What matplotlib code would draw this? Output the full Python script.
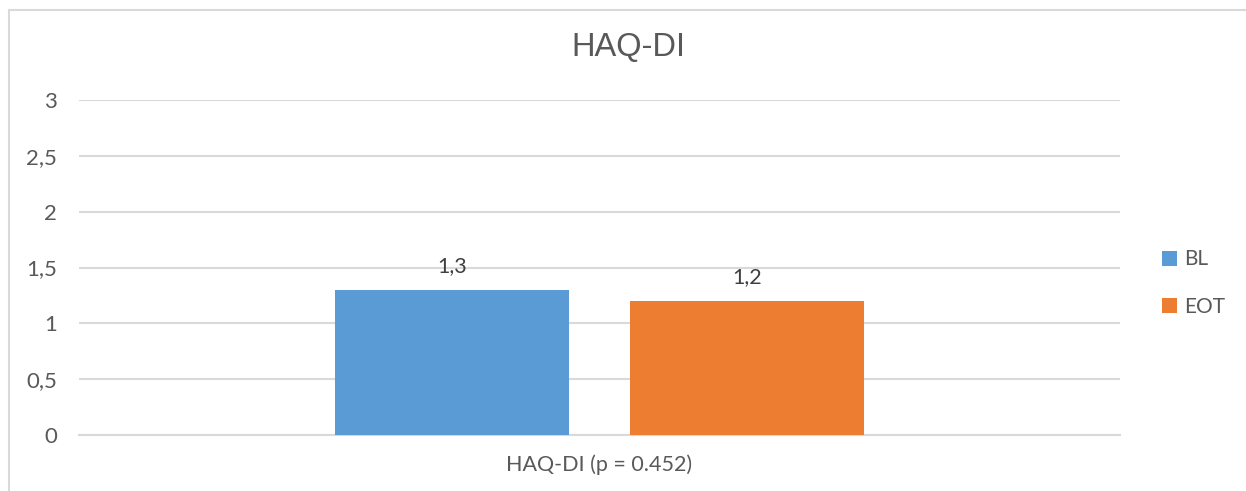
import matplotlib.pyplot as plt
from matplotlib.patches import Rectangle

categories = ["HAQ-DI (p = 0.452)"]
series = ["BL", "EOT"]
values = [1.3, 1.2]
value_labels = ["1,3", "1,2"]
colors = ["#5B9BD5", "#ED7D31"]
yticks = [0, 0.5, 1, 1.5, 2, 2.5, 3]
ytick_labels = ["0", "0,5", "1", "1,5", "2", "2,5", "3"]

W, H = 1246, 491
fig = plt.figure(figsize=(W / 100, H / 100), dpi=100)
plt.rcParams['font.family'] = ['Lato', 'DejaVu Sans']

# chart frame (only top and left edges fall inside the picture)
fig.patches.append(Rectangle((8.5 / W, -0.1), 1.2, 1 - 9.5 / H + 0.1,
                             transform=fig.transFigure, fill=False,
                             edgecolor="#d9d9d9", linewidth=1.5))

ax = fig.add_axes([79 / W, 1 - 435 / H, (1120 - 79) / W, (435 - 100) / H])

bar_w = 0.225
offsets = [-0.142, 0.142]
bars = []
for name, v, lab, c, off in zip(series, values, value_labels, colors, offsets):
    b = ax.bar(off, v, width=bar_w, color=c, label=name, zorder=3)
    bars.append(b)
    ax.text(off, v + 0.21, lab, ha="center", va="center", fontsize=15.5,
            color="#404040")

ax.set_xlim(-0.5, 0.5)
ax.set_ylim(0, 3)
ax.set_yticks(yticks)
ax.set_yticklabels(ytick_labels, fontsize=16, color="#595959")
ax.tick_params(axis="y", length=0, pad=16)
ax.set_xticks([0])
ax.set_xticklabels(categories, fontsize=15.5, color="#595959")
ax.tick_params(axis="x", length=0, pad=14)
ax.grid(axis="y", color="#d9d9d9", linewidth=1.5, zorder=0)
for s in ["top", "right", "left"]:
    ax.spines[s].set_visible(False)
ax.spines["bottom"].set_color("#d9d9d9")
ax.spines["bottom"].set_linewidth(1.5)

fig.text(628 / W, 1 - 47 / H, "HAQ-DI", ha="center", va="center",
         fontsize=23.5, color="#595959", family=["Liberation Sans"])

leg = fig.legend(handles=[b[0] for b in bars], labels=series,
                 loc="center left", bbox_to_anchor=(1143 / W, 1 - 283 / H),
                 frameon=False, fontsize=15, handlelength=0.75, handleheight=0.75,
                 handletextpad=0.3, labelspacing=1.3, labelcolor="#595959")

fig.savefig("out.png", dpi=100)
